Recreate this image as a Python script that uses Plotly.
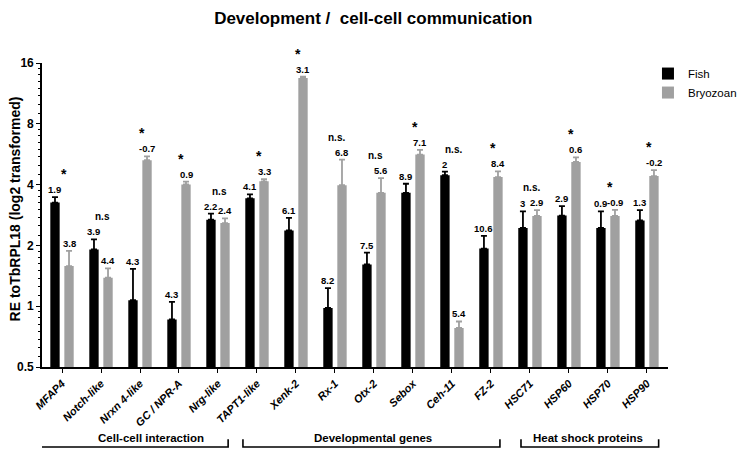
import math
import plotly.graph_objects as go

categories = ["MFAP4", "Notch-like", "Nrxn 4-like", "GC / NPR-A", "Nrg-like", "TAPT1-like",
              "Xenk-2", "Rx-1", "Otx-2", "Sebox", "Ceh-11", "FZ-2", "HSC71", "HSP60", "HSP70", "HSP90"]

fish_values = [3.26, 1.91, 1.07, 0.86, 2.68, 3.42, 2.37, 0.98, 1.61, 3.64, 4.45, 1.93, 2.44, 2.81, 2.44, 2.66]
fish_err = [0.21, 0.23, 0.46, 0.19, 0.19, 0.16, 0.37, 0.25, 0.23, 0.40, 0.19, 0.30, 0.51, 0.32, 0.51, 0.33]
bryo_values = [1.58, 1.385, 5.28, 4.01, 2.58, 4.15, 13.5, 3.97, 3.64, 5.63, 0.78, 4.36, 2.80, 5.18, 2.80, 4.41]
bryo_err = [0.30, 0.155, 0.24, 0.13, 0.14, 0.11, 0.2, 1.35, 0.67, 0.31, 0.06, 0.29, 0.19, 0.28, 0.20, 0.31]

fish_labels = ["1.9", "3.9", "4.3", "4.3", "2.2", "4.1", "6.1", "8.2", "7.5", "8.9", "2", "10.6", "3", "2.9", "0.9", "1.3"]
bryo_labels = ["3.8", "4.4", "-0.7", "0.9", "2.4", "3.3", "3.1", "6.8", "5.6", "7.1", "5.4", "8.4", "2.9", "0.6", "-0.9", "-0.2"]
significance = ["*", "n.s", "*", "*", "n.s", "*", "*", "n.s.", "n.s", "*", "n.s.", "*", "n.s.", "*", "*", "*"]

groups = ["Cell-cell interaction", "Developmental genes", "Heat shock proteins"]

y_major = [0.5, 1, 2, 4, 8, 16]
y_major_text = ["0.5", "1", "2", "4", "8", "16"]

FONT = "Liberation Sans, Arial, sans-serif"
BLACK = "#000000"
GREY = "#a0a0a0"

BAR_W = 0.24
FISH_OFF = -0.30
BRYO_OFF = 0.06

fig = go.Figure()
fig.add_trace(go.Bar(
    name="Fish", x=categories, y=fish_values, marker=dict(color=BLACK, line=dict(width=0)),
    width=BAR_W, offset=FISH_OFF,
    error_y=dict(type="data", array=fish_err, arrayminus=[0] * len(fish_err), symmetric=False,
                 color=BLACK, thickness=1.8, width=3),
))
fig.add_trace(go.Bar(
    name="Bryozoan", x=categories, y=bryo_values, marker=dict(color=GREY, line=dict(width=0)),
    width=BAR_W, offset=BRYO_OFF,
    error_y=dict(type="data", array=bryo_err, arrayminus=[0] * len(bryo_err), symmetric=False,
                 color=GREY, thickness=1.8, width=3),
))

annotations = []
for i in range(len(categories)):
    f_top = fish_values[i] + fish_err[i]
    b_top = bryo_values[i] + bryo_err[i]
    annotations.append(dict(x=i + FISH_OFF + BAR_W / 2, y=math.log10(f_top), xref="x", yref="y",
                            yanchor="bottom", text=fish_labels[i], showarrow=False, yshift=0,
                            font=dict(family=FONT, size=9.5, color=BLACK, weight="bold")))
    annotations.append(dict(x=i + BRYO_OFF + BAR_W / 2, y=math.log10(b_top), xref="x", yref="y",
                            yanchor="bottom", text=bryo_labels[i], showarrow=False, yshift=0,
                            font=dict(family=FONT, size=9.5, color=BLACK, weight="bold")))
    star = significance[i] == "*"
    annotations.append(dict(x=i + 0.05, y=math.log10(max(f_top, b_top)), xref="x", yref="y",
                            yanchor="bottom", text=significance[i], showarrow=False,
                            yshift=13 if star else 15,
                            font=dict(family=FONT, size=14 if star else 10, color=BLACK, weight="bold")))

# group brackets below the axis
bracket_spans = [(-0.82, 4.26), (4.64, 11.23), (11.77, 15.3)]
text_x = [2.28, 7.97, 13.5]
shapes = []
for (x0, x1), name, tx in zip(bracket_spans, groups, text_x):
    shapes.append(dict(type="path", xref="x", yref="paper",
                       path=f"M {x0},-0.238 L {x0},-0.263 L {x1},-0.263 L {x1},-0.238",
                       line=dict(color=BLACK, width=1.6)))
    annotations.append(dict(x=tx, y=-0.232, xref="x", yref="paper", yanchor="middle",
                            text=name, showarrow=False,
                            font=dict(family=FONT, size=11.5, color=BLACK, weight="bold")))

# y-axis title
annotations.append(dict(x=-0.044, y=0.52, xref="paper", yref="paper", xanchor="center", yanchor="middle",
                        text="RE toTbRPL18 (log2 transformed)", textangle=-90, showarrow=False,
                        font=dict(family=FONT, size=14, color=BLACK, weight="bold")))

minor_vals = []
for base in [0.5, 1, 2, 4, 8]:
    for k in range(1, 8):
        minor_vals.append(base * (1 + k / 8))

# the page shows the figure offset by the 8px body margin: size the figure to the visible area
fig.update_layout(
    width=741, height=441,
    margin=dict(l=34, r=81, t=55, b=82, autoexpand=False),
    paper_bgcolor="white", plot_bgcolor="white",
    barmode="overlay",
    title=dict(text="Development /  cell-cell communication", x=0.493, xanchor="center",
               y=0.978, yanchor="middle", pad=dict(t=0, b=0),
               font=dict(family=FONT, size=17, color=BLACK, weight="bold")),
    font=dict(family=FONT, color=BLACK),
    legend=dict(x=0.968, y=1.013, xanchor="left", yanchor="top", bgcolor="rgba(0,0,0,0)",
                borderwidth=0, font=dict(family=FONT, size=11.5, color=BLACK), tracegroupgap=0),
    xaxis=dict(type="category", range=[-0.513, 15.54], showgrid=False, zeroline=False,
               showline=True, linecolor=BLACK, linewidth=1.6, automargin=False,
               ticks="outside", ticklen=4, tickwidth=1.4, tickcolor=BLACK, tickangle=-45,
               tickfont=dict(family=FONT, size=11, color=BLACK, weight="bold", style="italic")),
    yaxis=dict(type="log", range=[-0.30103, 1.20412], showgrid=False, zeroline=False,
               showline=True, linecolor=BLACK, linewidth=1.6, automargin=False,
               tickmode="array", tickvals=y_major, ticktext=y_major_text,
               ticks="outside", ticklen=4, tickwidth=1.4, tickcolor=BLACK,
               tickfont=dict(family=FONT, size=12, color=BLACK, weight="bold"),
               minor=dict(tickmode="array", tickvals=minor_vals, ticks="outside", ticklen=2.5,
                          tickwidth=1, tickcolor=BLACK, showgrid=False)),
    annotations=annotations,
    shapes=shapes,
)

fig.write_html("out.html")
